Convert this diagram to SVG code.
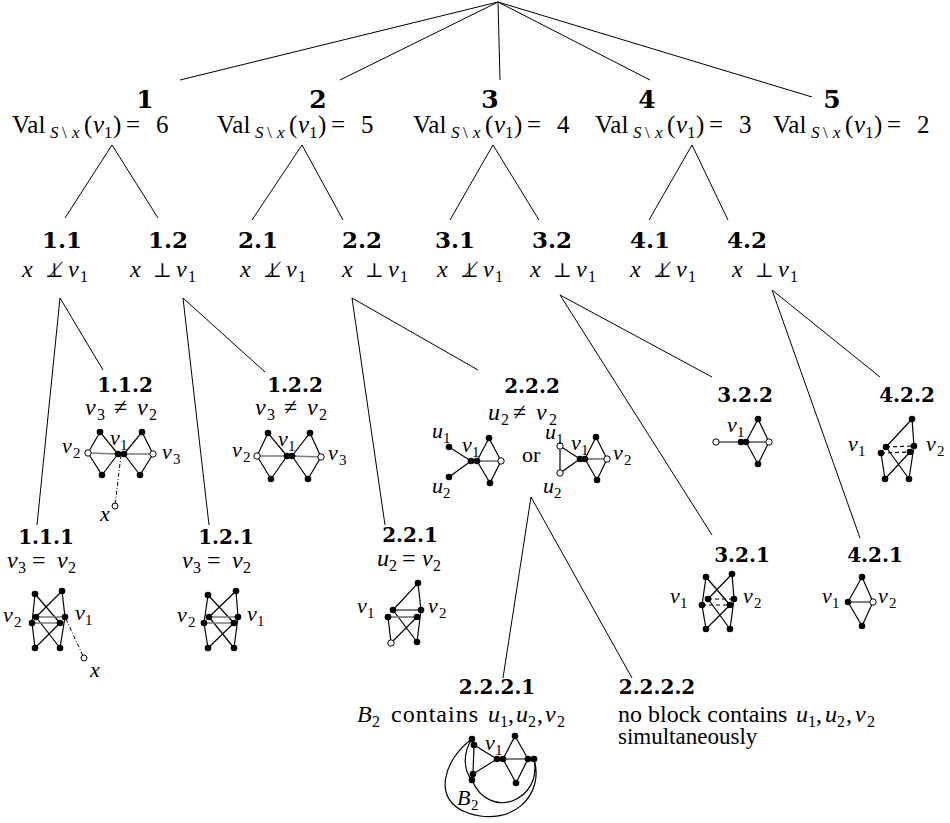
<svg xmlns="http://www.w3.org/2000/svg" width="950" height="823" viewBox="0 0 950 823" font-family="'Liberation Serif', 'Times New Roman', serif">
<style>
text{font-family:'Liberation Serif','Times New Roman',serif;fill:#000}
.b{font-family:'DejaVu Serif',serif;font-weight:bold;text-anchor:middle}
.b1{font-size:25px}.b2{font-size:23px}.b3{font-size:20px}
.m{font-size:24px;font-style:italic}
.v{font-size:25px;font-style:italic}
.gl{font-size:22px;font-style:italic}
.r{font-style:normal}
.s{font-size:16px;font-style:normal}
.si{font-size:17px;font-style:italic}
.sr{font-size:17px;font-style:normal}
.gs{font-size:15px;font-style:normal}
.perp{font-family:'DejaVu Serif','DejaVu Sans',serif;font-style:normal;font-size:20px}
.t{stroke:#000;stroke-width:1;fill:none}
.e{stroke:#000;stroke-width:1.2;fill:none}
.g{stroke:#7a7a7a;stroke-width:1.7;fill:none}
.d{stroke:#000;stroke-width:1.2;stroke-dasharray:4,3;fill:none}
.dd{stroke:#000;stroke-width:1;stroke-dasharray:4,2,1,2;fill:none}
.n{fill:#000}
.o{fill:#fff;stroke:#000;stroke-width:1}
</style>

<g id="connectors">
<path class="t" d="M498,2L180,80M498,2L340,80M498,2L500,80M498,2L650,80M498,2L812,97"/>
<path class="t" d="M112,145L65,218M112,145L158,218M302,145L252,220M302,145L343,220M493,145L450,220M493,145L539,220M692,145L649,220M692,145L728,220"/>
<path class="t" d="M60,298L37,525M60,298L103,370M183,298L209,525M183,298L265,372M352,298L385,525M352,298L478,370M560,295L712,377M560,295L712,535M772,290L880,377M772,290L860,538"/>
<path class="t" d="M531,497L503,678M531,497L632,678"/>
</g>

<g id="n1">
<text class="b b1" x="145" y="108">1</text>
<text class="v" y="133"><tspan x="12" class="r">Val</tspan><tspan x="50" y="138" class="si">S</tspan><tspan x="62" class="sr">\</tspan><tspan x="72" class="si">x</tspan><tspan x="84" y="133" class="r">(</tspan><tspan x="93">v</tspan><tspan x="104" y="138" class="sr">1</tspan><tspan x="113" y="133" class="r">)</tspan><tspan x="126" class="r">=</tspan><tspan x="156" class="r">6</tspan></text>
</g>
<g id="n2">
<text class="b b1" x="318" y="108">2</text>
<text class="v" y="133"><tspan x="217" class="r">Val</tspan><tspan x="255" y="138" class="si">S</tspan><tspan x="267" class="sr">\</tspan><tspan x="277" class="si">x</tspan><tspan x="289" y="133" class="r">(</tspan><tspan x="298">v</tspan><tspan x="309" y="138" class="sr">1</tspan><tspan x="318" y="133" class="r">)</tspan><tspan x="331" class="r">=</tspan><tspan x="361" class="r">5</tspan></text>
</g>
<g id="n3">
<text class="b b1" x="490" y="108">3</text>
<text class="v" y="133"><tspan x="413" class="r">Val</tspan><tspan x="451" y="138" class="si">S</tspan><tspan x="463" class="sr">\</tspan><tspan x="473" class="si">x</tspan><tspan x="485" y="133" class="r">(</tspan><tspan x="494">v</tspan><tspan x="505" y="138" class="sr">1</tspan><tspan x="514" y="133" class="r">)</tspan><tspan x="527" class="r">=</tspan><tspan x="557" class="r">4</tspan></text>
</g>
<g id="n4">
<text class="b b1" x="647" y="108">4</text>
<text class="v" y="133"><tspan x="595" class="r">Val</tspan><tspan x="633" y="138" class="si">S</tspan><tspan x="645" class="sr">\</tspan><tspan x="655" class="si">x</tspan><tspan x="667" y="133" class="r">(</tspan><tspan x="676">v</tspan><tspan x="687" y="138" class="sr">1</tspan><tspan x="696" y="133" class="r">)</tspan><tspan x="709" class="r">=</tspan><tspan x="739" class="r">3</tspan></text>
</g>
<g id="n5">
<text class="b b1" x="832" y="108">5</text>
<text class="v" y="133"><tspan x="773" class="r">Val</tspan><tspan x="811" y="138" class="si">S</tspan><tspan x="823" class="sr">\</tspan><tspan x="833" class="si">x</tspan><tspan x="845" y="133" class="r">(</tspan><tspan x="854">v</tspan><tspan x="865" y="138" class="sr">1</tspan><tspan x="874" y="133" class="r">)</tspan><tspan x="887" class="r">=</tspan><tspan x="917" class="r">2</tspan></text>
</g>

<g id="n1-1">
<text class="b b2" x="62" y="248">1.1</text>
<text class="m" y="277"><tspan x="22">x</tspan><tspan x="45" class="perp">⊥̸</tspan><tspan x="68">v</tspan><tspan x="80" y="282" class="s">1</tspan></text>
</g>
<g id="n1-2">
<text class="b b2" x="168" y="248">1.2</text>
<text class="m" y="277"><tspan x="130">x</tspan><tspan x="153" class="perp">⊥</tspan><tspan x="176">v</tspan><tspan x="188" y="282" class="s">1</tspan></text>
</g>
<g id="n2-1">
<text class="b b2" x="258" y="248">2.1</text>
<text class="m" y="277"><tspan x="240">x</tspan><tspan x="263" class="perp">⊥̸</tspan><tspan x="286">v</tspan><tspan x="298" y="282" class="s">1</tspan></text>
</g>
<g id="n2-2">
<text class="b b2" x="362" y="248">2.2</text>
<text class="m" y="277"><tspan x="342">x</tspan><tspan x="365" class="perp">⊥</tspan><tspan x="388">v</tspan><tspan x="400" y="282" class="s">1</tspan></text>
</g>
<g id="n3-1">
<text class="b b2" x="455" y="248">3.1</text>
<text class="m" y="277"><tspan x="437">x</tspan><tspan x="460" class="perp">⊥̸</tspan><tspan x="483">v</tspan><tspan x="495" y="282" class="s">1</tspan></text>
</g>
<g id="n3-2">
<text class="b b2" x="552" y="248">3.2</text>
<text class="m" y="277"><tspan x="530">x</tspan><tspan x="553" class="perp">⊥</tspan><tspan x="576">v</tspan><tspan x="588" y="282" class="s">1</tspan></text>
</g>
<g id="n4-1">
<text class="b b2" x="650" y="248">4.1</text>
<text class="m" y="277"><tspan x="630">x</tspan><tspan x="653" class="perp">⊥̸</tspan><tspan x="676">v</tspan><tspan x="688" y="282" class="s">1</tspan></text>
</g>
<g id="n4-2">
<text class="b b2" x="747" y="248">4.2</text>
<text class="m" y="277"><tspan x="732">x</tspan><tspan x="755" class="perp">⊥</tspan><tspan x="778">v</tspan><tspan x="790" y="282" class="s">1</tspan></text>
</g>

<g id="n1-1-2">
<text class="b b3" x="125" y="392">1.1.2</text>
<text class="m" y="415"><tspan x="85">v</tspan><tspan x="97" y="420" class="s">3</tspan><tspan x="114" y="415" class="r">≠</tspan><tspan x="137">v</tspan><tspan x="149" y="420" class="s">2</tspan></text>
<path class="e" d="M88,453L100,432L118,454M88,453L102,475L118,454M124,454L142,432L153,454M124,454L140,475L153,454"/>
<path class="g" d="M88,453L118,454M124,454L153,454"/>
<path class="dd" d="M121,455L115,506"/>
<circle class="o" cx="88" cy="453" r="3.2"/><circle class="n" cx="100" cy="432" r="3.3"/><circle class="n" cx="102" cy="475" r="3.3"/><circle class="n" cx="118" cy="454" r="3.3"/><circle class="n" cx="124" cy="454" r="3.3"/><circle class="n" cx="142" cy="432" r="3.3"/><circle class="n" cx="140" cy="475" r="3.3"/><circle class="o" cx="153" cy="454" r="3.2"/><circle class="o" cx="115" cy="506" r="3"/>
<text class="gl" y="453"><tspan x="62">v</tspan><tspan x="73" y="458" class="gs">2</tspan></text>
<text class="gl" y="445"><tspan x="110">v</tspan><tspan x="120" y="450" class="gs">1</tspan></text>
<text class="gl" y="459"><tspan x="162">v</tspan><tspan x="173" y="464" class="gs">3</tspan></text>
<text class="gl" x="100" y="521">x</text>
</g>

<g id="n1-2-2">
<text class="b b3" x="295" y="392">1.2.2</text>
<text class="m" y="415"><tspan x="255">v</tspan><tspan x="267" y="420" class="s">3</tspan><tspan x="284" y="415" class="r">≠</tspan><tspan x="307">v</tspan><tspan x="319" y="420" class="s">2</tspan></text>
<path class="e" d="M257,456L268,433L287,456M257,456L271,479L287,456M292,456L310,433L321,457M292,456L308,479L321,457"/>
<path class="g" d="M257,456L287,456M292,456L321,457"/>
<circle class="o" cx="257" cy="456" r="3.2"/><circle class="n" cx="268" cy="433" r="3.3"/><circle class="n" cx="271" cy="479" r="3.3"/><circle class="n" cx="287" cy="456" r="3.3"/><circle class="n" cx="292" cy="456" r="3.3"/><circle class="n" cx="310" cy="433" r="3.3"/><circle class="n" cx="308" cy="479" r="3.3"/><circle class="o" cx="321" cy="457" r="3.2"/>
<text class="gl" y="457"><tspan x="232">v</tspan><tspan x="243" y="462" class="gs">2</tspan></text>
<text class="gl" y="446"><tspan x="278">v</tspan><tspan x="288" y="451" class="gs">1</tspan></text>
<text class="gl" y="460"><tspan x="328">v</tspan><tspan x="339" y="465" class="gs">3</tspan></text>
</g>

<g id="n2-2-2">
<text class="b b3" x="532" y="393">2.2.2</text>
<text class="m" y="420"><tspan x="488">u</tspan><tspan x="501" y="425" class="s">2</tspan><tspan x="513" y="420" class="r">≠</tspan><tspan x="536">v</tspan><tspan x="549" y="425" class="s">2</tspan></text>
<path class="e" d="M449,447L471,461L449,477M477,461L489,438L501,461M477,461L490,483L501,461"/>
<path class="g" d="M477,461L501,461"/>
<circle class="n" cx="449" cy="447" r="3.3"/><circle class="n" cx="449" cy="477" r="3.3"/><circle class="n" cx="471" cy="461" r="3.3"/><circle class="n" cx="477" cy="461" r="3.3"/><circle class="n" cx="489" cy="438" r="3.3"/><circle class="n" cx="490" cy="483" r="3.3"/><circle class="o" cx="501" cy="461" r="3.2"/>
<text class="gl" y="438"><tspan x="432">u</tspan><tspan x="443" y="443" class="gs">1</tspan></text>
<text class="gl" y="452"><tspan x="462">v</tspan><tspan x="472" y="457" class="gs">1</tspan></text>
<text class="gl" y="493"><tspan x="432">u</tspan><tspan x="443" y="498" class="gs">2</tspan></text>
<text x="522" y="462" font-size="22">or</text>
<path class="e" d="M560,446L560,473L580,459L560,446M585,459L596,437L607,459M585,459L597,480L607,459"/>
<path class="g" d="M585,459L607,459"/>
<circle class="o" cx="560" cy="446" r="3.2"/><circle class="o" cx="560" cy="473" r="3.2"/><circle class="n" cx="580" cy="459" r="3.3"/><circle class="n" cx="585" cy="459" r="3.3"/><circle class="n" cx="596" cy="437" r="3.3"/><circle class="n" cx="597" cy="480" r="3.3"/><circle class="o" cx="607" cy="459" r="3.2"/>
<text class="gl" y="439"><tspan x="545">u</tspan><tspan x="556" y="444" class="gs">1</tspan></text>
<text class="gl" y="450"><tspan x="571">v</tspan><tspan x="581" y="455" class="gs">1</tspan></text>
<text class="gl" y="460"><tspan x="613">v</tspan><tspan x="624" y="465" class="gs">2</tspan></text>
<text class="gl" y="493"><tspan x="543">u</tspan><tspan x="554" y="498" class="gs">2</tspan></text>
</g>

<g id="n3-2-2">
<text class="b b3" x="745" y="402">3.2.2</text>
<path class="e" d="M716,442L741,442M746,442L758,419L769,442M746,442L758,464L769,442M746,442L769,442"/>
<circle class="o" cx="716" cy="442" r="3.2"/><circle class="n" cx="741" cy="442" r="3.3"/><circle class="n" cx="746" cy="442" r="3.3"/><circle class="n" cx="758" cy="419" r="3.3"/><circle class="n" cx="758" cy="464" r="3.3"/><circle class="o" cx="769" cy="442" r="3.2"/>
<text class="gl" y="432"><tspan x="727">v</tspan><tspan x="737" y="437" class="gs">1</tspan></text>
</g>

<g id="n4-2-2">
<text class="b b3" x="907" y="402">4.2.2</text>
<path class="e" d="M886,447L912,419L914,446M881,453L885,479M914,446L909,479M886,447L909,479M910,452L885,479"/>
<path class="d" d="M886,447L914,446M881,453L910,452"/>
<circle class="n" cx="912" cy="419" r="3.3"/><circle class="n" cx="886" cy="447" r="3.3"/><circle class="n" cx="881" cy="453" r="3.3"/><circle class="n" cx="914" cy="446" r="3.3"/><circle class="n" cx="910" cy="452" r="3.3"/><circle class="n" cx="885" cy="479" r="3.3"/><circle class="n" cx="909" cy="479" r="3.3"/>
<text class="gl" y="451"><tspan x="848">v</tspan><tspan x="858" y="456" class="gs">1</tspan></text>
<text class="gl" y="451"><tspan x="926">v</tspan><tspan x="937" y="456" class="gs">2</tspan></text>
</g>

<g id="n1-1-1">
<text class="b b3" x="46" y="544">1.1.1</text>
<text class="m" y="568"><tspan x="7">v</tspan><tspan x="18" y="573" class="s">3</tspan><tspan x="32" y="568" class="r">=</tspan><tspan x="57">v</tspan><tspan x="68" y="573" class="s">2</tspan></text>
<path class="e" d="M35,594L32,623M35,594L60,623M62,591L36,617M62,591L65,617M32,623L35,648M65,617L60,648M36,617L60,648M60,623L35,648"/>
<path class="g" d="M36,617L65,617M32,623L60,623"/>
<path class="dd" d="M66,619L84,658"/>
<circle class="n" cx="35" cy="594" r="3.3"/><circle class="n" cx="62" cy="591" r="3.3"/><circle class="n" cx="36" cy="617" r="3.3"/><circle class="n" cx="32" cy="623" r="3.3"/><circle class="n" cx="65" cy="617" r="3.3"/><circle class="n" cx="60" cy="623" r="3.3"/><circle class="n" cx="35" cy="648" r="3.3"/><circle class="n" cx="60" cy="648" r="3.3"/><circle class="o" cx="84" cy="658" r="3"/>
<text class="gl" y="622"><tspan x="3">v</tspan><tspan x="14" y="627" class="gs">2</tspan></text>
<text class="gl" y="620"><tspan x="75">v</tspan><tspan x="85" y="625" class="gs">1</tspan></text>
<text class="gl" x="90" y="677">x</text>
</g>

<g id="n1-2-1">
<text class="b b3" x="226" y="544">1.2.1</text>
<text class="m" y="568"><tspan x="182">v</tspan><tspan x="193" y="573" class="s">3</tspan><tspan x="207" y="568" class="r">=</tspan><tspan x="232">v</tspan><tspan x="243" y="573" class="s">2</tspan></text>
<path class="e" d="M208,595L204,623M208,595L234,623M236,591L209,617M236,591L238,617M204,623L208,648M238,617L234,648M209,617L234,648M234,623L208,648"/>
<path class="g" d="M209,617L238,617M204,623L234,623"/>
<circle class="n" cx="208" cy="595" r="3.3"/><circle class="n" cx="236" cy="591" r="3.3"/><circle class="n" cx="209" cy="617" r="3.3"/><circle class="n" cx="204" cy="623" r="3.3"/><circle class="n" cx="238" cy="617" r="3.3"/><circle class="n" cx="234" cy="623" r="3.3"/><circle class="n" cx="208" cy="648" r="3.3"/><circle class="n" cx="234" cy="648" r="3.3"/>
<text class="gl" y="622"><tspan x="177">v</tspan><tspan x="188" y="627" class="gs">2</tspan></text>
<text class="gl" y="621"><tspan x="247">v</tspan><tspan x="257" y="626" class="gs">1</tspan></text>
</g>

<g id="n2-2-1">
<text class="b b3" x="410" y="542">2.2.1</text>
<text class="m" y="566"><tspan x="377">u</tspan><tspan x="389" y="571" class="s">2</tspan><tspan x="402" y="566" class="r">=</tspan><tspan x="422">v</tspan><tspan x="433" y="571" class="s">2</tspan></text>
<path class="e" d="M393,610L418,583L421,610M393,610L421,610M388,617L391,643M393,610L417,642M417,617L391,643M421,610L417,642"/>
<path class="g" d="M388,617L417,617"/>
<circle class="n" cx="418" cy="583" r="3.3"/><circle class="n" cx="393" cy="610" r="3.3"/><circle class="n" cx="388" cy="617" r="3.3"/><circle class="n" cx="421" cy="610" r="3.3"/><circle class="n" cx="417" cy="617" r="3.3"/><circle class="o" cx="391" cy="643" r="3.2"/><circle class="n" cx="417" cy="642" r="3.3"/>
<text class="gl" y="613"><tspan x="357">v</tspan><tspan x="367" y="618" class="gs">1</tspan></text>
<text class="gl" y="613"><tspan x="428">v</tspan><tspan x="439" y="618" class="gs">2</tspan></text>
</g>

<g id="n3-2-1">
<text class="b b3" x="742" y="562">3.2.1</text>
<path class="e" d="M706,577L702,605M706,577L730,605M732,574L708,599M732,574L734,599M702,605L706,629M734,599L730,629M708,599L730,629M730,605L706,629"/>
<path class="d" d="M708,599L734,599M702,605L730,605"/>
<circle class="n" cx="706" cy="577" r="3.3"/><circle class="n" cx="732" cy="574" r="3.3"/><circle class="n" cx="708" cy="599" r="3.3"/><circle class="n" cx="702" cy="605" r="3.3"/><circle class="n" cx="734" cy="599" r="3.3"/><circle class="n" cx="730" cy="605" r="3.3"/><circle class="n" cx="706" cy="629" r="3.3"/><circle class="n" cx="730" cy="629" r="3.3"/>
<text class="gl" y="603"><tspan x="670">v</tspan><tspan x="680" y="608" class="gs">1</tspan></text>
<text class="gl" y="603"><tspan x="743">v</tspan><tspan x="754" y="608" class="gs">2</tspan></text>
</g>

<g id="n4-2-1">
<text class="b b3" x="875" y="562">4.2.1</text>
<path class="e" d="M848,602L862,577L873,602L862,626L848,602L873,602"/>
<circle class="n" cx="862" cy="577" r="3.3"/><circle class="n" cx="848" cy="602" r="3.3"/><circle class="o" cx="873" cy="602" r="3.2"/><circle class="n" cx="862" cy="626" r="3.3"/>
<text class="gl" y="603"><tspan x="822">v</tspan><tspan x="832" y="608" class="gs">1</tspan></text>
<text class="gl" y="603"><tspan x="878">v</tspan><tspan x="889" y="608" class="gs">2</tspan></text>
</g>

<g id="n2-2-2-1">
<text class="b b3" x="497" y="694">2.2.2.1</text>
<text class="m" y="722"><tspan x="357">B</tspan><tspan x="372" y="727" class="s">2</tspan><tspan x="391" y="722" class="r" letter-spacing="1">contains</tspan><tspan x="488">u</tspan><tspan x="500" y="727" class="s">1</tspan><tspan x="508" y="722" class="r">,</tspan><tspan x="516">u</tspan><tspan x="528" y="727" class="s">2</tspan><tspan x="537" y="722" class="r">,</tspan><tspan x="545">v</tspan><tspan x="557" y="727" class="s">2</tspan></text>
<path class="e" d="M474,745L497,759L473,774L474,745M503,759L515,736L528,759M503,759L516,783L528,759M503,759L528,759"/>
<path class="e" d="M472,739C463,752 463,770 472,780M472,780C480,800 498,806 512,801C528,795 538,780 534,759M472,739C445,758 430,800 468,813C512,828 545,795 534,759"/>
<circle class="n" cx="472" cy="739" r="3.3"/><circle class="n" cx="474" cy="745" r="3.3"/><circle class="n" cx="473" cy="774" r="3.3"/><circle class="n" cx="472" cy="780" r="3.3"/><circle class="n" cx="497" cy="759" r="3.3"/><circle class="n" cx="503" cy="759" r="3.3"/><circle class="n" cx="515" cy="736" r="3.3"/><circle class="n" cx="516" cy="783" r="3.3"/><circle class="n" cx="528" cy="759" r="3.3"/><circle class="n" cx="534" cy="759" r="3.3"/>
<text class="gl" y="750"><tspan x="485">v</tspan><tspan x="495" y="755" class="gs">1</tspan></text>
<text class="gl" y="805"><tspan x="457">B</tspan><tspan x="471" y="810" class="gs">2</tspan></text>
</g>

<g id="n2-2-2-2">
<text class="b b3" x="657" y="694">2.2.2.2</text>
<text class="m" y="722"><tspan x="618" class="r">no block contains</tspan><tspan x="796">u</tspan><tspan x="808" y="727" class="s">1</tspan><tspan x="816" y="722" class="r">,</tspan><tspan x="825">u</tspan><tspan x="837" y="727" class="s">2</tspan><tspan x="846" y="722" class="r">,</tspan><tspan x="855">v</tspan><tspan x="867" y="727" class="s">2</tspan></text>
<text x="618" y="744" font-size="23">simultaneously</text>
</g>
</svg>
